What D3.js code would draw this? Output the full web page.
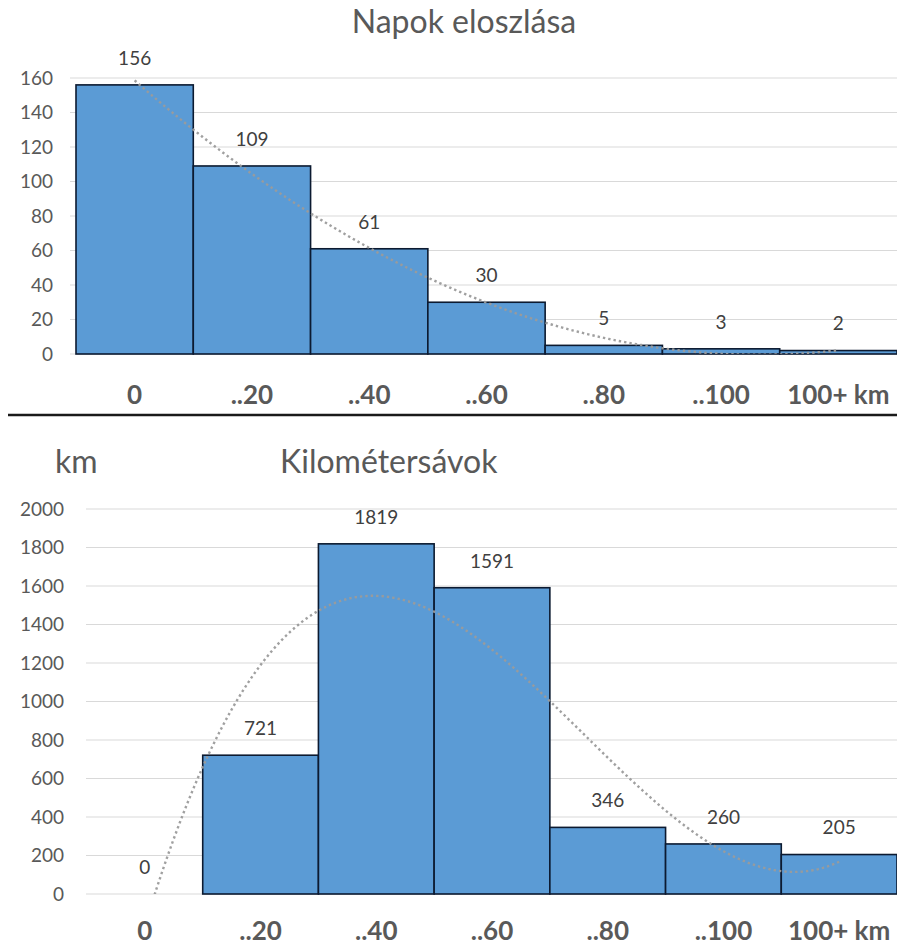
<!DOCTYPE html>
<html>
<head>
<meta charset="utf-8">
<script src="https://cdn.jsdelivr.net/npm/d3@7/dist/d3.min.js"></script>
<style>
  html, body { margin: 0; padding: 0; background: #ffffff; }
  svg { display: block; font-family: Lato, "Open Sans", sans-serif; }
</style>
</head>
<body>
<svg id="chart" width="897" height="950"></svg>
<script>
// Distance bands shared by both histograms
const categories = ["0", "..20", "..40", "..60", "..80", "..100", "100+ km"];

// Number of days falling in each band
const dayCounts = [156, 109, 61, 30, 5, 3, 2];
const dayTicks = [0, 20, 40, 60, 80, 100, 120, 140, 160];

// Kilometres covered within each band
const kmTotals = [0, 721, 1819, 1591, 346, 260, 205];
const kmTicks = [0, 200, 400, 600, 800, 1000, 1200, 1400, 1600, 1800, 2000];

const svg = d3.select("#chart");

// Least-squares polynomial fit of the given order over x = 1..n
function polyFit(values, order) {
  const n = order + 1;
  const A = Array.from({length: n}, () => new Array(n + 1).fill(0));
  values.forEach((v, i) => {
    const x = i + 1;
    for (let r = 0; r < n; r++) {
      for (let c = 0; c < n; c++) A[r][c] += Math.pow(x, r + c);
      A[r][n] += v * Math.pow(x, r);
    }
  });
  for (let p = 0; p < n; p++) {
    let best = p;
    for (let r = p + 1; r < n; r++) if (Math.abs(A[r][p]) > Math.abs(A[best][p])) best = r;
    [A[p], A[best]] = [A[best], A[p]];
    for (let r = 0; r < n; r++) {
      if (r === p) continue;
      const f = A[r][p] / A[p][p];
      for (let c = p; c <= n; c++) A[r][c] -= f * A[p][c];
    }
  }
  const coef = A.map((row, i) => row[n] / row[i]);
  return x => coef.reduce((s, c, i) => s + c * Math.pow(x, i), 0);
}

function drawHistogram(cfg) {
  const g = svg.append("g");
  const x = d3.scaleBand().domain(categories).range([cfg.left, cfg.right]).padding(0);
  const y = d3.scaleLinear().domain([0, cfg.yMax]).range([cfg.bottom, cfg.top]);

  // horizontal gridlines
  g.append("g").selectAll("line").data(cfg.ticks).join("line")
    .attr("x1", cfg.gridLeft).attr("x2", cfg.right)
    .attr("y1", d => y(d)).attr("y2", d => y(d))
    .attr("stroke", "#d9d9d9").attr("stroke-width", 1.2);

  // value axis labels
  const yAxis = d3.axisLeft(y).tickValues(cfg.ticks).tickSize(0).tickPadding(0)
    .tickFormat(d3.format("d"));
  const ya = g.append("g").attr("transform", `translate(${cfg.tickX},0)`).call(yAxis);
  ya.select(".domain").remove();
  ya.selectAll("text")
    .attr("fill", "#595959").attr("font-size", 19)
    .attr("font-family", "Lato, sans-serif");

  // bars
  g.append("g").selectAll("rect").data(cfg.values).join("rect")
    .attr("x", (d, i) => x(categories[i]))
    .attr("y", d => y(d))
    .attr("width", x.bandwidth())
    .attr("height", d => y(0) - y(d))
    .attr("fill", "#5b9bd5")
    .attr("stroke", "#0c1a30").attr("stroke-width", 1.6);

  // polynomial trendline, clipped to the plot area
  const clipId = "clip-" + cfg.id;
  svg.append("clipPath").attr("id", clipId).append("rect")
    .attr("x", cfg.left).attr("y", cfg.top - 20)
    .attr("width", cfg.right - cfg.left).attr("height", y(0) - cfg.top + 20);
  const fit = polyFit(cfg.values, cfg.order);
  const xt = d3.scaleLinear().domain([1, categories.length])
    .range([x(categories[0]) + x.bandwidth() / 2, x(categories[categories.length - 1]) + x.bandwidth() / 2]);
  const pts = d3.range(1, categories.length + 0.001, 0.02).map(t => [xt(t), y(fit(t))]);
  g.append("path")
    .attr("clip-path", `url(#${clipId})`)
    .attr("d", d3.line()(pts))
    .attr("fill", "none")
    .attr("stroke", "#9b9b9b").attr("stroke-opacity", 0.95)
    .attr("stroke-width", 2.4)
    .attr("stroke-dasharray", "2.4,3");

  // data labels above each bar
  g.append("g").selectAll("text").data(cfg.values).join("text")
    .attr("x", (d, i) => x(categories[i]) + x.bandwidth() / 2)
    .attr("y", d => y(d) - cfg.labelGap)
    .attr("text-anchor", "middle").attr("dominant-baseline", "middle")
    .attr("fill", "#404040").attr("font-size", 19)
    .text(d => d);

  // category labels
  g.append("g").selectAll("text").data(categories).join("text")
    .attr("x", d => x(d) + x.bandwidth() / 2)
    .attr("y", cfg.catY)
    .attr("text-anchor", "middle").attr("dominant-baseline", "middle")
    .attr("fill", "#595959").attr("font-size", 26).attr("font-weight", "bold")
    .text(d => d);

  return g;
}

drawHistogram({
  id: "days", values: dayCounts, ticks: dayTicks, yMax: 160, order: 2,
  left: 76, right: 897, top: 78, bottom: 354, gridLeft: 70, tickX: 53,
  labelGap: 25, catY: 397
});

drawHistogram({
  id: "km", values: kmTotals, ticks: kmTicks, yMax: 2000, order: 3,
  left: 87, right: 897, top: 509, bottom: 894, gridLeft: 86, tickX: 64,
  labelGap: 25, catY: 933
});

// titles
svg.append("text").attr("x", 464).attr("y", 33)
  .attr("text-anchor", "middle").attr("fill", "#595959").attr("font-size", 32)
  .text("Napok eloszlása");
svg.append("text").attr("x", 55).attr("y", 473)
  .attr("fill", "#595959").attr("font-size", 32)
  .text("km");
svg.append("text").attr("x", 280).attr("y", 473)
  .attr("fill", "#595959").attr("font-size", 32)
  .text("Kilométersávok");

// rule separating the two charts
svg.append("line").attr("x1", 8).attr("x2", 897).attr("y1", 415).attr("y2", 415)
  .attr("stroke", "#1a1a1a").attr("stroke-width", 2.5);
</script>
</body>
</html>
